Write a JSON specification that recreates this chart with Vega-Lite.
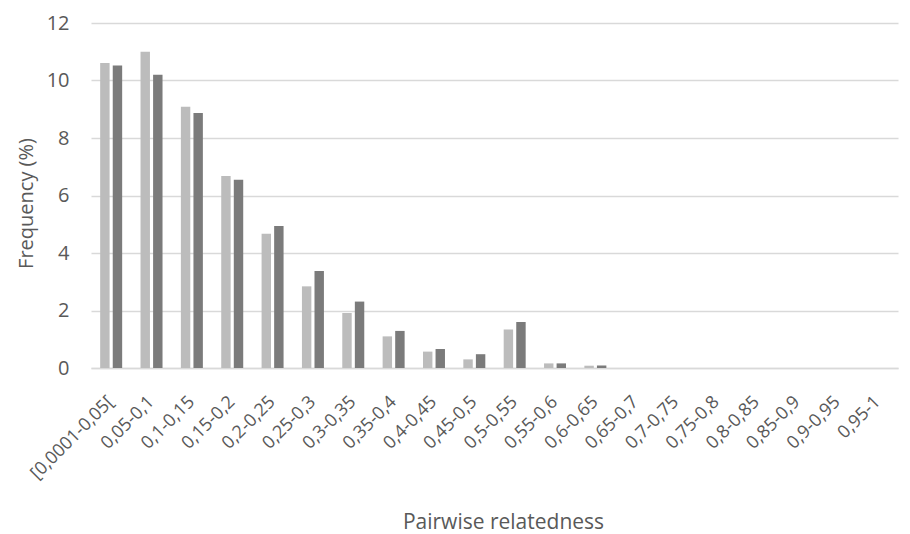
{
  "$schema": "https://vega.github.io/schema/vega-lite/v6.json",
  "width": 807,
  "height": 345,
  "autosize": "none",
  "padding": {"left": 91, "top": 23, "right": 12, "bottom": 166},
  "background": "white",
  "config": {"view": {"stroke": null}, "font": "Open Sans"},
  "data": {"values": [
    {"bin": "[0,0001-0,05[", "series": "Series 1", "value": 10.61},
    {"bin": "[0,0001-0,05[", "series": "Series 2", "value": 10.52},
    {"bin": "0,05-0,1", "series": "Series 1", "value": 11.0},
    {"bin": "0,05-0,1", "series": "Series 2", "value": 10.2},
    {"bin": "0,1-0,15", "series": "Series 1", "value": 9.09},
    {"bin": "0,1-0,15", "series": "Series 2", "value": 8.87},
    {"bin": "0,15-0,2", "series": "Series 1", "value": 6.68},
    {"bin": "0,15-0,2", "series": "Series 2", "value": 6.55},
    {"bin": "0,2-0,25", "series": "Series 1", "value": 4.67},
    {"bin": "0,2-0,25", "series": "Series 2", "value": 4.94},
    {"bin": "0,25-0,3", "series": "Series 1", "value": 2.84},
    {"bin": "0,25-0,3", "series": "Series 2", "value": 3.37},
    {"bin": "0,3-0,35", "series": "Series 1", "value": 1.91},
    {"bin": "0,3-0,35", "series": "Series 2", "value": 2.31},
    {"bin": "0,35-0,4", "series": "Series 1", "value": 1.10},
    {"bin": "0,35-0,4", "series": "Series 2", "value": 1.29},
    {"bin": "0,4-0,45", "series": "Series 1", "value": 0.57},
    {"bin": "0,4-0,45", "series": "Series 2", "value": 0.66},
    {"bin": "0,45-0,5", "series": "Series 1", "value": 0.30},
    {"bin": "0,45-0,5", "series": "Series 2", "value": 0.48},
    {"bin": "0,5-0,55", "series": "Series 1", "value": 1.34},
    {"bin": "0,5-0,55", "series": "Series 2", "value": 1.60},
    {"bin": "0,55-0,6", "series": "Series 1", "value": 0.16},
    {"bin": "0,55-0,6", "series": "Series 2", "value": 0.16},
    {"bin": "0,6-0,65", "series": "Series 1", "value": 0.08},
    {"bin": "0,6-0,65", "series": "Series 2", "value": 0.09},
    {"bin": "0,65-0,7", "series": "Series 1", "value": 0},
    {"bin": "0,65-0,7", "series": "Series 2", "value": 0},
    {"bin": "0,7-0,75", "series": "Series 1", "value": 0},
    {"bin": "0,7-0,75", "series": "Series 2", "value": 0},
    {"bin": "0,75-0,8", "series": "Series 1", "value": 0},
    {"bin": "0,75-0,8", "series": "Series 2", "value": 0},
    {"bin": "0,8-0,85", "series": "Series 1", "value": 0},
    {"bin": "0,8-0,85", "series": "Series 2", "value": 0},
    {"bin": "0,85-0,9", "series": "Series 1", "value": 0},
    {"bin": "0,85-0,9", "series": "Series 2", "value": 0},
    {"bin": "0,9-0,95", "series": "Series 1", "value": 0},
    {"bin": "0,9-0,95", "series": "Series 2", "value": 0},
    {"bin": "0,95-1", "series": "Series 1", "value": 0},
    {"bin": "0,95-1", "series": "Series 2", "value": 0}
  ]},
  "mark": {"type": "bar"},
  "encoding": {
    "x": {
      "field": "bin", "type": "nominal", "sort": null,
      "scale": {"paddingInner": 0.455, "paddingOuter": 0.2275},
      "axis": {
        "title": "Pairwise relatedness", "titleFontSize": 21, "titleFontWeight": "normal", "titleColor": "#595959",
        "titleY": 160, "titleX": 412, "titleBaseline": "alphabetic",
        "labelAngle": -45, "labelAlign": "right", "labelBaseline": "middle", "labelFontSize": 18, "labelColor": "#595959", "labelPadding": 31,
        "domainColor": "#d9d9d9", "domainWidth": 1.5, "ticks": false, "grid": false
      }
    },
    "xOffset": {"field": "series", "type": "nominal", "scale": {"paddingInner": 0.25}},
    "y": {
      "field": "value", "type": "quantitative",
      "scale": {"domain": [0, 12]},
      "axis": {
        "title": "Frequency (%)", "titleFontSize": 20, "titleFontWeight": "normal", "titleColor": "#595959", "titlePadding": 10,
        "titleY": 180,
        "values": [0, 2, 4, 6, 8, 10, 12], "labelFontSize": 20, "labelColor": "#595959", "labelPadding": 22,
        "domain": false, "ticks": false, "gridColor": "#d9d9d9", "gridWidth": 1.5
      }
    },
    "color": {
      "field": "series", "type": "nominal",
      "scale": {"domain": ["Series 1", "Series 2"], "range": ["#bcbcbc", "#7b7b7b"]},
      "legend": null
    }
  }
}
